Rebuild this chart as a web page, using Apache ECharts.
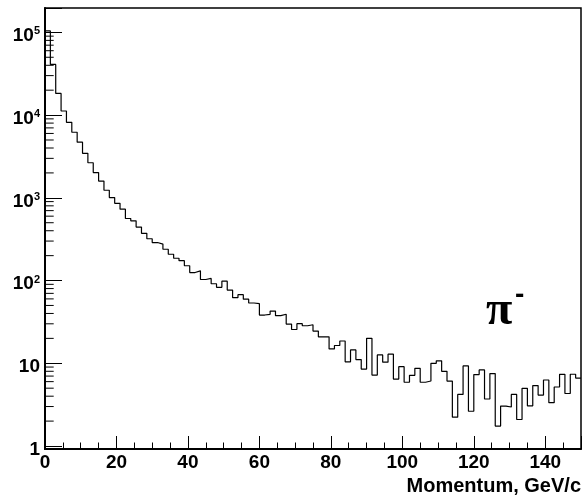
<!DOCTYPE html>
<html>
<head>
<meta charset="utf-8">
<script src="https://cdn.jsdelivr.net/npm/echarts@6/dist/echarts.min.js"></script>
<style>
  html, body { margin: 0; padding: 0; background: #fff; }
  #chart { width: 584px; height: 496px; }
</style>
</head>
<body>
<div id="chart"></div>
<script>
// Momentum spectrum of negative pions, 100 bins of 1.5 GeV/c from 0 to 150
const binWidth = 1.5;
const counts = [
  104000, 41000, 18300, 11200, 8170, 6200, 4700, 3450, 2655, 2020,
  1595, 1235, 1008, 858, 728, 562, 527, 443, 372, 320,
  288, 276, 239, 208, 186, 174, 151, 125, 131, 103,
  106, 91.5, 82.8, 98.4, 76.8, 62.0, 67.4, 59.5, 53.5, 52.5,
  38.3, 39.1, 42.8, 37.6, 39.1, 29.8, 25.6, 30.1, 28.4, 29.2,
  24.5, 20.9, 20.9, 14.9, 16.4, 18.6, 10.4, 14.5, 11.1, 8.5,
  20.0, 7.2, 12.6, 10.3, 12.9, 6.45, 9.1, 5.9, 7.15, 8.7,
  5.9, 6.1, 10.0, 10.7, 8.0, 6.1, 2.23, 4.2, 9.3, 2.63,
  7.3, 8.3, 3.7, 7.5, 1.74, 3.04, 2.96, 4.2, 2.09, 4.98,
  3.06, 5.38, 4.13, 6.28, 3.34, 5.17, 7.36, 4.31, 7.37, 6.63
];

const xRange = [0, 150];
const yRange = [0.92, 1.97e5];
const xTickValues = [0, 20, 40, 60, 80, 100, 120, 140];
const xMinorStep = 5;
const yTickValues = [1, 10, 100, 1000, 10000, 100000];
const yMinorTicks = [
  2, 3, 4, 5, 6, 7, 8, 9,
  20, 30, 40, 50, 60, 70, 80, 90,
  200, 300, 400, 500, 600, 700, 800, 900,
  2e3, 3e3, 4e3, 5e3, 6e3, 7e3, 8e3, 9e3,
  2e4, 3e4, 4e4, 5e4, 6e4, 7e4, 8e4, 9e4
];
const xTitle = 'Momentum, GeV/c';
const particleLabel = 'π';
const chargeLabel = '-';

const FONT = '"Liberation Sans", Arial, Helvetica, sans-serif';

// step outline: each bin's low edge plus a closing point at the upper edge of the last bin
const histPoints = counts.map((c, i) => [i * binWidth, c]);
histPoints.push([counts.length * binWidth, counts[counts.length - 1]]);

function yLabel(v) {
  const e = Math.round(Math.log10(v));
  const hit = yTickValues.some(t => Math.abs(Math.log10(t) - Math.log10(v)) < 1e-6);
  if (!hit) return '';
  if (e === 0) return '{n|1}';
  if (e === 1) return '{n|10}';
  return '{n|10}{s|' + e + '}';
}

const chart = echarts.init(document.getElementById('chart'), null, { renderer: 'canvas' });

chart.setOption({
  animation: false,
  backgroundColor: '#fff',
  grid: {
    left: 45, right: 1.3, top: 8, bottom: 47,
    show: true, borderColor: '#000', borderWidth: 1.5, backgroundColor: 'transparent'
  },
  xAxis: [
    {
      type: 'value', min: xRange[0], max: xRange[1], interval: 20,
      position: 'bottom',
      axisLine: { show: true, onZero: false, lineStyle: { color: '#000', width: 2 } },
      axisTick: { show: true, inside: true, length: 13, lineStyle: { color: '#000', width: 1 } },
      minorTick: { show: false },
      splitLine: { show: false },
      axisLabel: {
        margin: 4,
        formatter: v => (xTickValues.indexOf(Math.round(v)) >= 0 && Math.abs(v - Math.round(v)) < 1e-9 ? String(Math.round(v)) : ''),
        fontFamily: FONT, fontWeight: 'bold', fontSize: 19, color: '#000'
      }
    },
    {
      type: 'value', min: xRange[0], max: xRange[1], interval: xMinorStep,
      position: 'bottom',
      axisLine: { show: false },
      axisTick: { show: true, inside: true, length: 6.5, lineStyle: { color: '#000', width: 1 } },
      splitLine: { show: false },
      axisLabel: { show: false }
    }
  ],
  yAxis: {
    type: 'log', logBase: 10, min: yRange[0], max: yRange[1],
    axisLine: { show: true, onZero: false, lineStyle: { color: '#000', width: 2 } },
    axisTick: { show: true, inside: true, length: 17, lineStyle: { color: '#000', width: 1 } },
    minorTick: { show: false },
    splitLine: { show: false },
    axisLabel: {
      margin: 5,
      padding: [7, 0, 0, 0],
      formatter: yLabel,
      color: '#000',
      rich: {
        n: { fontFamily: FONT, fontWeight: 'bold', fontSize: 19, lineHeight: 20, color: '#000' },
        s: { fontFamily: FONT, fontWeight: 'bold', fontSize: 11, lineHeight: 11, verticalAlign: 'top', color: '#000' }
      }
    }
  },
  series: [
    {
      type: 'line',
      xAxisIndex: 0,
      step: 'end',
      data: histPoints,
      showSymbol: false,
      symbol: 'none',
      lineStyle: { color: '#000', width: 1.2 },
      z: 3
    },
    {
      // minor ticks of the logarithmic axis at 2..9 per decade
      type: 'custom',
      xAxisIndex: 0,
      data: yMinorTicks.map(v => [xRange[0], v]),
      renderItem: (params, api) => {
        const p = api.coord([api.value(0), api.value(1)]);
        return {
          type: 'line',
          shape: { x1: p[0], y1: p[1], x2: p[0] + 8.7, y2: p[1] },
          style: { stroke: '#000', lineWidth: 1 }
        };
      },
      silent: true,
      z: 2
    }
  ],
  graphic: [
    {
      type: 'text', right: 3, top: 476,
      style: { text: xTitle, font: 'bold 20px ' + FONT, fill: '#000' }
    },
    {
      type: 'text', x: 486, y: 312,
      style: { text: particleLabel, font: 'bold 48px "Liberation Serif", "Times New Roman", serif', fill: '#000', textAlign: 'left', textVerticalAlign: 'middle' }
    },
    {
      type: 'text', x: 515, y: 295,
      style: { text: chargeLabel, font: 'bold 28px ' + FONT, fill: '#000', textAlign: 'left', textVerticalAlign: 'middle' }
    }
  ]
});
</script>
</body>
</html>
